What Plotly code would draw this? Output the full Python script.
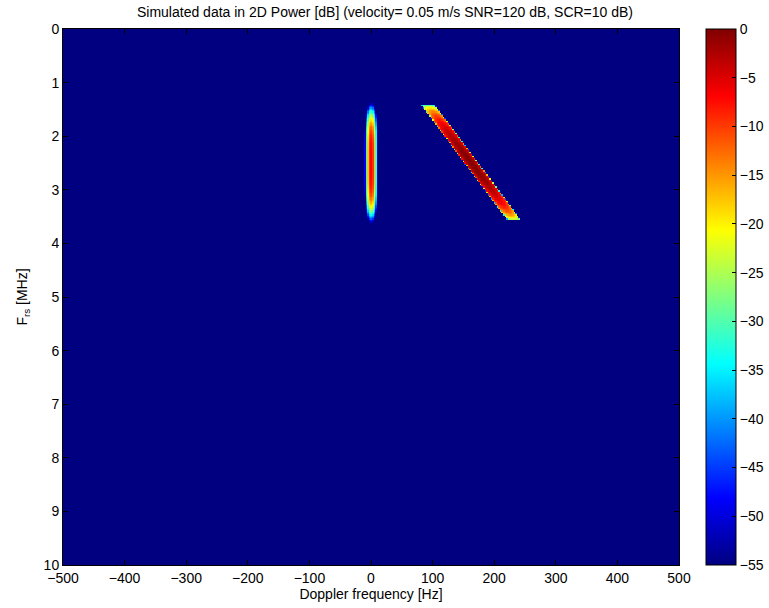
import numpy as np
import plotly.graph_objects as go

# ---- chart values ----
title_text = "Simulated data in 2D Power [dB] (velocity= 0.05 m/s SNR=120 dB, SCR=10 dB)"
x_ticks = [-500, -400, -300, -200, -100, 0, 100, 200, 300, 400, 500]
y_ticks = [0, 1, 2, 3, 4, 5, 6, 7, 8, 9, 10]
cbar_ticks = [0, -5, -10, -15, -20, -25, -30, -35, -40, -45, -50, -55]

# Doppler axis bins [Hz] and range-frequency axis bins [MHz]
doppler_hz = np.linspace(-500, 500, 401)
frs_mhz = np.arange(0, 10.0001, 0.025)

# physical parameters of the simulation (ultrasound, v = 0.05 m/s, c = 1540 m/s)
velocity = 0.05          # m/s
sound_speed = 1540.0     # m/s
band_center = 2.5        # MHz
target_band_half = 1.075 # MHz (band approx. 1.43 - 3.57 MHz)
target_window_len = 1.10 # MHz
clutter_rolloff_db = 30.0
target_peak_db = 0.0
clutter_peak_db = -7.0
floor_db = -60.0

# ---- build the power map ----
FD, F = np.meshgrid(doppler_hz, frs_mhz)
d = np.abs(F - band_center)
win_t = np.where(d <= target_band_half,
                 np.cos(np.pi * d / (2 * target_window_len)) ** 2, 0.0)
win_t_db = 10 * np.log10(np.maximum(win_t, 1e-12))
win_c_db = -clutter_rolloff_db * d ** 4

# target: Doppler shift proportional to transmitted frequency
fd_target = 2 * velocity * F * 1e6 / sound_speed
dx = np.abs(FD - fd_target)
target_db = (target_peak_db + win_t_db - 5.0 * (dx / 10.0) ** 2
             - 40.0 * (np.maximum(dx - 9.5, 0.0) / 2.0) ** 2)

# clutter: at 0 Hz
clutter_db = clutter_peak_db + win_c_db - 0.42 * FD ** 2

P = 10 * np.log10(10 ** (target_db / 10) + 10 ** (clutter_db / 10) + 1e-30)
P = np.maximum(P, floor_db)

jet = [
    [0.0, "rgb(0,0,128)"],
    [0.125, "rgb(0,0,255)"],
    [0.375, "rgb(0,255,255)"],
    [0.625, "rgb(255,255,0)"],
    [0.875, "rgb(255,0,0)"],
    [1.0, "rgb(128,0,0)"],
]

font_family = "Liberation Sans, Arial, sans-serif"
axis_font = dict(family=font_family, size=14, color="black")

fig = go.Figure(
    go.Heatmap(
        x=doppler_hz,
        y=frs_mhz,
        z=P,
        zmin=-55,
        zmax=0,
        colorscale=jet,
        zsmooth=False,
        hoverinfo="skip",
        colorbar=dict(
            x=1.0438,
            xanchor="left",
            y=0.5,
            yanchor="middle",
            len=1.0,
            lenmode="fraction",
            thickness=30,
            thicknessmode="pixels",
            outlinecolor="black",
            outlinewidth=1,
            tickvals=cbar_ticks,
            ticktext=[("\u2212" + str(-v)) if v < 0 else str(v) for v in cbar_ticks],
            ticks="inside",
            ticklen=4,
            tickcolor="black",
            tickfont=axis_font,
            xpad=0,
            ypad=0,
        ),
    )
)

fig.update_layout(
    width=769,
    height=608,
    margin=dict(l=63, r=90, t=29, b=43, autoexpand=False),
    paper_bgcolor="white",
    plot_bgcolor="white",
    font=axis_font,
    title=dict(
        text=title_text,
        x=(131 + 639) / 2 / 769,
        xanchor="center",
        y=1 - 12 / 608,
        yanchor="middle",
        yref="container",
        font=axis_font,
    ),
    xaxis=dict(
        range=[-500, 500],
        tickvals=x_ticks,
        ticks="inside",
        ticklen=5,
        tickcolor="black",
        showline=True,
        linecolor="black",
        linewidth=1,
        mirror="ticks",
        showgrid=False,
        zeroline=False,
        automargin=False,
        tickfont=axis_font,
        title=dict(text="Doppler frequency [Hz]", font=axis_font, standoff=0),
    ),
    yaxis=dict(
        range=[10, 0],
        tickvals=y_ticks,
        ticks="inside",
        ticklen=5,
        tickcolor="black",
        showline=True,
        linecolor="black",
        linewidth=1,
        mirror="ticks",
        showgrid=False,
        zeroline=False,
        automargin=False,
        tickfont=axis_font,
        title=dict(text="F<sub>rs</sub> [MHz]", font=axis_font, standoff=12),
    ),
)

fig.write_html(
    "out.html",
    config={"displayModeBar": False},
    post_script="document.body.style.margin='0';",
)
